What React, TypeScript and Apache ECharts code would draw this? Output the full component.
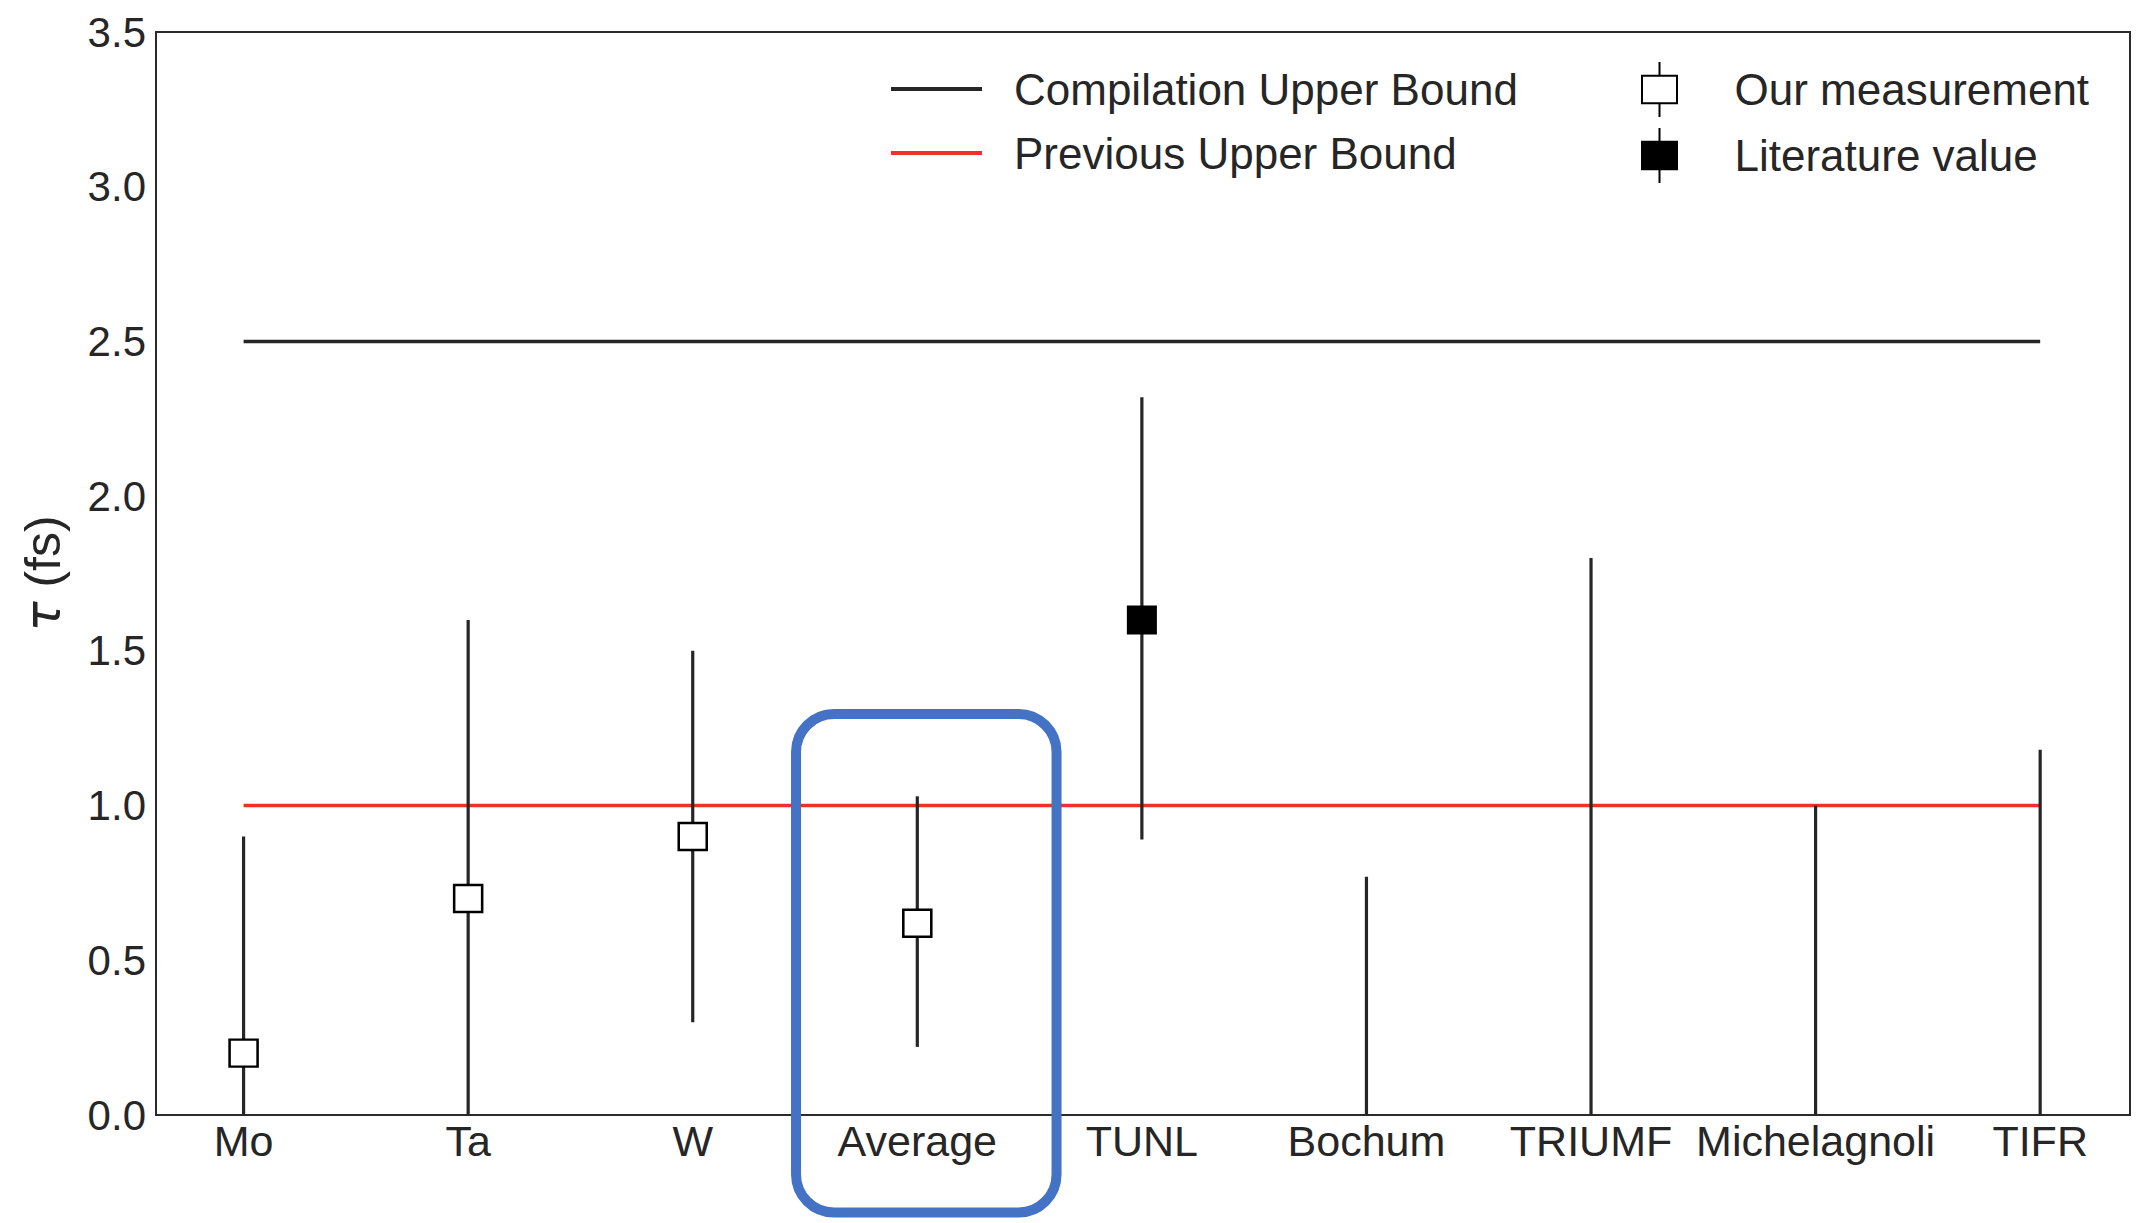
import React, { useEffect, useRef } from 'react';
import * as echarts from 'echarts';

// ---- Data ----
const categories = ['Mo', 'Ta', 'W', 'Average', 'TUNL', 'Bochum', 'TRIUMF', 'Michelagnoli', 'TIFR'];
// error bar ranges (tau, fs) per category
const errLow = [0, 0, 0.3, 0.22, 0.89, 0, 0, 0, 0];
const errHigh = [0.9, 1.6, 1.5, 1.03, 2.32, 0.77, 1.8, 1.0, 1.18];
// our measurements
const ourCategories = ['Mo', 'Ta', 'W', 'Average'];
const ourValues = [0.2, 0.7, 0.9, 0.62];
// literature values
const litCategories = ['TUNL'];
const litValues = [1.6];
// upper bounds
const compilationUpperBound = 2.5;
const previousUpperBound = 1.0;
const yMin = 0;
const yMax = 3.5;
const yInterval = 0.5;

// highlight box around "Average" (data-space extents)
const highlight = { x0: 2.46, x1: 3.62, y0: -0.315, y1: 1.296 };

const FONT = "'Liberation Sans', Arial, Helvetica, sans-serif";
const TEXT = '#262626';

const markerIcon =
  'path://M14 0 L14 11 M0 11 L28 11 L28 33 L0 33 Z M14 33 L14 44';

export default function App() {
  const ref = useRef<HTMLDivElement>(null);

  useEffect(() => {
    if (!ref.current) return;
    const chart = echarts.init(ref.current, null, { renderer: 'svg' });
    const idx = (c: string) => categories.indexOf(c);
    const first = 0;
    const last = categories.length - 1;

    const option: any = {
      animation: false,
      backgroundColor: '#ffffff',
      grid: {
        left: 156,
        right: 15,
        top: 32,
        bottom: 108,
        show: true,
        borderColor: '#2b2b2b',
        borderWidth: 2,
        backgroundColor: 'transparent',
      },
      xAxis: {
        type: 'value',
        min: -0.39,
        max: 8.4,
        axisLine: { show: false },
        axisTick: { show: false },
        splitLine: { show: false },
        axisLabel: {
          customValues: categories.map((_, i) => i),
          formatter: (v: number) => categories[Math.round(v)] ?? '',
          fontSize: 43,
          fontFamily: FONT,
          color: TEXT,
          margin: 4,
        },
      },
      yAxis: {
        type: 'value',
        min: yMin,
        max: yMax,
        interval: yInterval,
        axisLine: { show: false },
        axisTick: { show: false },
        splitLine: { show: false },
        axisLabel: {
          formatter: (v: number) => v.toFixed(1),
          fontSize: 42,
          fontFamily: FONT,
          color: TEXT,
          margin: 10,
        },
        name: '{t|τ} (fs)',
        nameLocation: 'middle',
        nameGap: 88,
        nameTextStyle: {
          fontSize: 50,
          fontFamily: FONT,
          color: TEXT,
          rich: {
            t: { fontSize: 50, fontStyle: 'italic', fontFamily: "'DejaVu Sans', sans-serif", color: TEXT },
          },
        },
      },
      legend: [
        {
          data: ['Compilation Upper Bound', 'Previous Upper Bound'],
          orient: 'vertical',
          left: 884,
          top: 59,
          itemWidth: 91,
          itemHeight: 4,
          itemGap: 14,
          selectedMode: false,
          lineStyle: { width: 4 },
          textStyle: {
            fontSize: 44,
            lineHeight: 50,
            fontFamily: FONT,
            color: TEXT,
            padding: [0, 0, 0, 27],
          },
        },
        {
          data: [
            { name: 'Our measurement', icon: markerIcon },
            { name: 'Literature value', icon: markerIcon },
          ],
          orient: 'vertical',
          left: 1636,
          top: 56,
          itemWidth: 140,
          itemHeight: 55,
          itemGap: 9,
          selectedMode: false,
          textStyle: {
            fontSize: 44,
            lineHeight: 50,
            fontFamily: FONT,
            color: TEXT,
          },
        },
      ],
      series: [
        {
          name: 'Compilation Upper Bound',
          type: 'line',
          data: [
            [first, compilationUpperBound],
            [last, compilationUpperBound],
          ],
          symbol: 'none',
          lineStyle: { color: '#262626', width: 3.5 },
          itemStyle: { color: '#262626' },
          silent: true,
          z: 2,
        },
        {
          name: 'Previous Upper Bound',
          type: 'line',
          data: [
            [first, previousUpperBound],
            [last, previousUpperBound],
          ],
          symbol: 'none',
          lineStyle: { color: '#f03030', width: 3.5 },
          itemStyle: { color: '#f03030' },
          silent: true,
          z: 2,
        },
        {
          name: 'errorbars',
          type: 'custom',
          data: categories.map((_, i) => [i, errLow[i], errHigh[i]]),
          encode: { x: 0, y: [1, 2] },
          clip: false,
          silent: true,
          z: 3,
          renderItem: (params: any, api: any) => {
            const p1 = api.coord([api.value(0), api.value(1)]);
            const p2 = api.coord([api.value(0), api.value(2)]);
            return {
              type: 'line',
              shape: { x1: p1[0], y1: p1[1], x2: p2[0], y2: p2[1] },
              style: { stroke: '#262626', lineWidth: 3.2 },
            };
          },
        },
        {
          name: 'Our measurement',
          type: 'scatter',
          data: ourCategories.map((c, i) => [idx(c), ourValues[i]]),
          symbol: 'rect',
          symbolSize: [28, 27],
          itemStyle: { color: '#ffffff', borderColor: '#000000', borderWidth: 2.5, opacity: 1 },
          silent: true,
          z: 5,
        },
        {
          name: 'Literature value',
          type: 'scatter',
          data: litCategories.map((c, i) => [idx(c), litValues[i]]),
          symbol: 'rect',
          symbolSize: [28, 27],
          itemStyle: { color: '#000000', borderColor: '#000000', borderWidth: 2, opacity: 1 },
          silent: true,
          z: 5,
        },
      ],
    };

    chart.setOption(option);

    const tl = chart.convertToPixel({ gridIndex: 0 }, [highlight.x0, highlight.y1]) as number[];
    const br = chart.convertToPixel({ gridIndex: 0 }, [highlight.x1, highlight.y0]) as number[];
    chart.setOption({
      graphic: [
        {
          type: 'rect',
          z: 100,
          shape: { x: tl[0], y: tl[1], width: br[0] - tl[0], height: br[1] - tl[1], r: 38 },
          style: { fill: 'none', stroke: '#4472C4', lineWidth: 10 },
          silent: true,
        },
      ],
    });

    return () => {
      chart.dispose();
    };
  }, []);

  return (
    <div
      ref={ref}
      style={{ position: 'fixed', left: 0, top: 0, width: 2145, height: 1223, background: '#fff' }}
    />
  );
}
